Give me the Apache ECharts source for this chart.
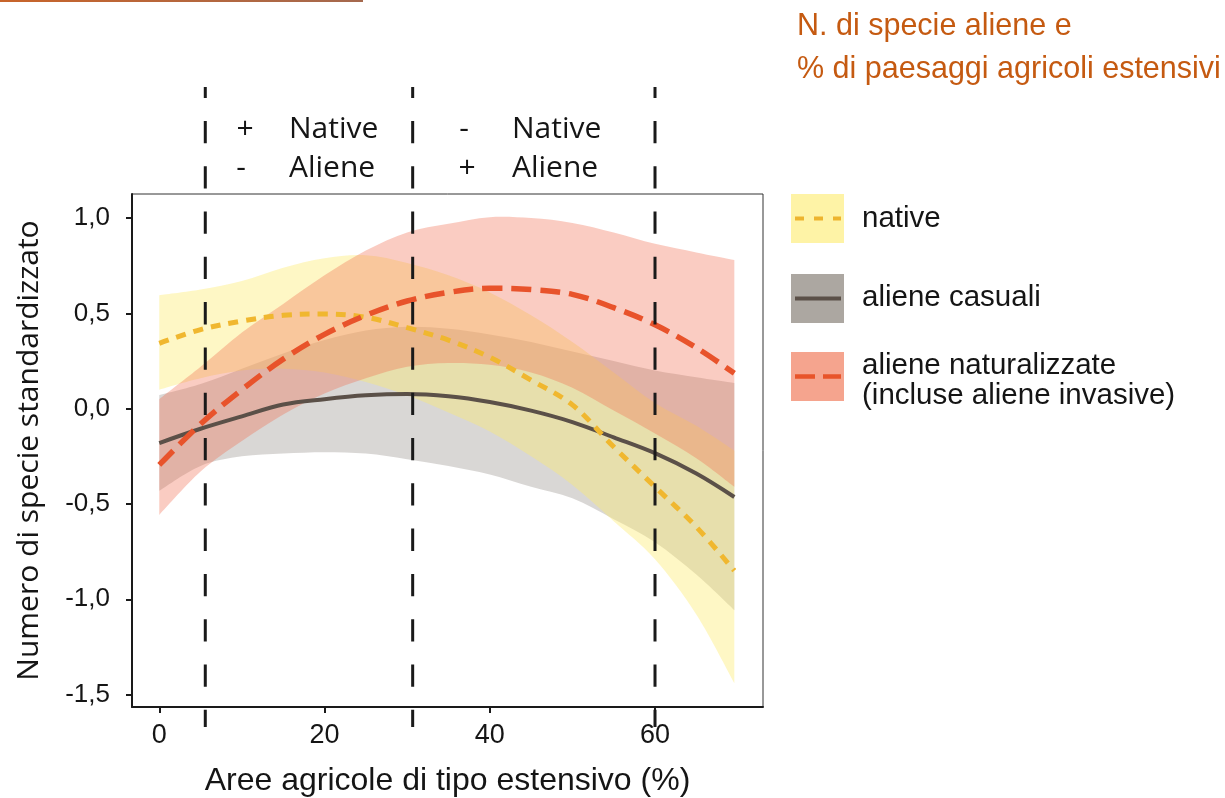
<!DOCTYPE html>
<html>
<head>
<meta charset="utf-8">
<title>N. di specie aliene e % di paesaggi agricoli estensivi</title>
<script src="https://cdn.jsdelivr.net/npm/echarts@6/dist/echarts.min.js"></script>
<style>
  html, body { margin: 0; padding: 0; background: #ffffff; }
  #chart { width: 1225px; height: 798px; }
</style>
</head>
<body>
<div id="chart"></div>
<script>
// Share of extensive farmland (%) at which the fitted curves are sampled
const X_POS = [0, 5, 10, 15, 20, 25, 30, 35, 40, 45, 50, 55, 60, 65, 69.6];

// Native species: fitted curve and confidence band
const NATIVE_FIT  = [0.343, 0.415, 0.46, 0.49, 0.497, 0.48, 0.425, 0.36, 0.27, 0.15, 0.02, -0.2, -0.41, -0.62, -0.85];
const NATIVE_LOW  = [0.10, 0.16, 0.20, 0.21, 0.19, 0.14, 0.07, -0.02, -0.12, -0.25, -0.40, -0.59, -0.79, -1.08, -1.44];
const NATIVE_HIGH = [0.595, 0.625, 0.67, 0.74, 0.79, 0.805, 0.765, 0.70, 0.61, 0.49, 0.35, 0.19, 0.03, -0.09, -0.22];

// Casual aliens: fitted curve and confidence band
const CASUAL_FIT  = [-0.18, -0.105, -0.04, 0.022, 0.05, 0.07, 0.077, 0.065, 0.035, -0.01, -0.07, -0.15, -0.233, -0.34, -0.463];
const CASUAL_LOW  = [-0.43, -0.30, -0.25, -0.235, -0.228, -0.235, -0.265, -0.30, -0.345, -0.41, -0.47, -0.58, -0.70, -0.87, -1.057];
const CASUAL_HIGH = [0.072, 0.13, 0.21, 0.29, 0.36, 0.41, 0.43, 0.42, 0.39, 0.35, 0.30, 0.25, 0.20, 0.165, 0.135];

// Naturalised aliens (invasive included): fitted curve and confidence band
const NATURAL_FIT  = [-0.295, -0.08, 0.10, 0.26, 0.39, 0.49, 0.565, 0.61, 0.632, 0.625, 0.60, 0.53, 0.44, 0.32, 0.186];
const NATURAL_LOW  = [-0.557, -0.33, -0.17, -0.03, 0.08, 0.16, 0.22, 0.24, 0.23, 0.19, 0.11, -0.01, -0.13, -0.26, -0.41];
const NATURAL_HIGH = [0.05, 0.22, 0.40, 0.55, 0.70, 0.83, 0.925, 0.97, 1.005, 1.0, 0.975, 0.925, 0.865, 0.82, 0.78];

// Thresholds separating the three landscape regimes
const VLINE_X = [5.57, 30.67, 60];

// Axis ticks and texts
const X_TICKS = [0, 20, 40, 60];
const Y_TICKS = [-1.5, -1.0, -0.5, 0, 0.5, 1.0];
const X_TITLE = 'Aree agricole di tipo estensivo (%)';
const Y_TITLE = 'Numero di specie standardizzato';
const TITLE_LINES = ['N. di specie aliene e', '% di paesaggi agricoli estensivi'];
const LEGEND_NAMES = ['native', 'aliene casuali', 'aliene naturalizzate', '(incluse aliene invasive)'];
const ZONE_TEXT = [['+', 'Native'], ['-', 'Aliene'], ['-', 'Native'], ['+', 'Aliene']];

const pairs = (xs, ys) => xs.map((x, i) => [x, ys[i]]);
const SMOOTH = 0.35;

// Smooth path through pixel points (Catmull-Rom converted to cubic Bezier)
function smoothSegments(pts, first) {
  let d = first ? 'M' + pts[0][0] + ',' + pts[0][1] : 'L' + pts[0][0] + ',' + pts[0][1];
  for (let i = 0; i < pts.length - 1; i++) {
    const p0 = pts[Math.max(i - 1, 0)], p1 = pts[i], p2 = pts[i + 1], p3 = pts[Math.min(i + 2, pts.length - 1)];
    const c1x = p1[0] + (p2[0] - p0[0]) / 6, c1y = p1[1] + (p2[1] - p0[1]) / 6;
    const c2x = p2[0] - (p3[0] - p1[0]) / 6, c2y = p2[1] - (p3[1] - p1[1]) / 6;
    d += 'C' + c1x + ',' + c1y + ' ' + c2x + ',' + c2y + ' ' + p2[0] + ',' + p2[1];
  }
  return d;
}

// Confidence band: one filled shape between the lower and upper limits
function band(id, low, high, color) {
  return {
    type: 'custom', name: id, silent: true, z: 1,
    data: X_POS.map((x, i) => [x, low[i], high[i]]),
    encode: { x: 0, y: [1, 2] },
    renderItem: function (params, api) {
      if (params.dataIndexInside !== 0) return null;
      const n = params.dataInsideLength;
      const up = [], lo = [];
      for (let i = 0; i < n; i++) {
        const x = api.value(0, i);
        lo.push(api.coord([x, api.value(1, i)]));
        up.push(api.coord([x, api.value(2, i)]));
      }
      const d = smoothSegments(up, true) + smoothSegments(lo.slice().reverse(), false) + 'Z';
      return { type: 'path', shape: { pathData: d }, style: { fill: color } };
    }
  };
}

function fitLine(id, ys, color, width, dash) {
  return {
    type: 'line', name: id, data: pairs(X_POS, ys), symbol: 'none', smooth: SMOOTH, silent: true,
    lineStyle: { color: color, width: width, type: dash }, z: 3
  };
}

const VLINE_TOP = 1.688, VLINE_BOTTOM = -1.67;
const vlines = VLINE_X.map((x, i) => ({
  type: 'line', name: 'soglia' + i, data: [[x, VLINE_TOP], [x, VLINE_BOTTOM]],
  symbol: 'none', clip: false, silent: true,
  lineStyle: { color: '#1a1a1a', width: 3, type: [22.3, 23], dashOffset: 11.4, cap: 'butt' }, z: 6
}));

const TXT = '#151515';
const graphics = [];
// thin rule in the top-left corner
graphics.push({
  type: 'rect', left: 0, top: 0, shape: { width: 363, height: 2 },
  style: { fill: new echarts.graphic.LinearGradient(0, 0, 1, 0, [
    { offset: 0, color: '#C8642A' }, { offset: 1, color: '#A5694E' }]) }
});
// heading
TITLE_LINES.forEach((t, i) => graphics.push({
  type: 'text', x: 797, y: [27, 70][i],
  style: { text: t, fill: '#C55A11', font: '30.5px "Liberation Sans", Arial, sans-serif', textVerticalAlign: 'middle' }
}));
// regime annotations above the plot
const zonePos = [[245, 289, 127], [241, 289, 166], [464, 512, 127], [467, 512, 166]];
ZONE_TEXT.forEach((pair, i) => {
  const p = zonePos[i];
  graphics.push({ type: 'text', x: p[0], y: p[2] + 2,
    style: { text: pair[0], fill: TXT, font: '30px "Open Sans", sans-serif', textAlign: 'center', textVerticalAlign: 'middle' } });
  graphics.push({ type: 'text', x: p[1], y: p[2] + 2,
    style: { text: pair[1], fill: TXT, font: '30px "Open Sans", sans-serif', textVerticalAlign: 'middle' } });
});
// legend swatches
const swatches = [
  { top: 194, fill: '#FEF3A6', stroke: '#EDB42E', dash: [9, 10], w: 4 },
  { top: 274, fill: '#ACA7A1', stroke: '#5B5048', dash: null, w: 4 },
  { top: 352, fill: '#F5A48E', stroke: '#E8542A', dash: [20, 8], w: 4.5 }
];
swatches.forEach(s => {
  graphics.push({ type: 'rect', left: 791, top: s.top, shape: { width: 53, height: 49 }, style: { fill: s.fill } });
  graphics.push({ type: 'line', shape: { x1: 795, y1: s.top + 24.5, x2: 841, y2: s.top + 24.5 },
    style: { stroke: s.stroke, lineWidth: s.w, lineDash: s.dash } });
});
const legendY = [219, 298, 366, 396];
LEGEND_NAMES.forEach((t, i) => graphics.push({
  type: 'text', x: 862, y: legendY[i],
  style: { text: t, fill: TXT, font: '29.5px "Liberation Sans", Arial, sans-serif', textVerticalAlign: 'middle' }
}));

const chart = echarts.init(document.getElementById('chart'), null, { renderer: 'canvas' });
chart.setOption({
  animation: false,
  backgroundColor: '#ffffff',
  grid: {
    left: 132, top: 194, width: 631, height: 513, containLabel: false, outerBoundsMode: 'none',
    show: true, borderColor: '#333333', borderWidth: 1
  },
  xAxis: {
    type: 'value', min: -3.30, max: 73.07,
    axisLine: { show: true, onZero: false, lineStyle: { color: '#1a1a1a', width: 2 } },
    axisTick: { show: true, customValues: X_TICKS, length: 6, lineStyle: { color: '#1a1a1a', width: 2 } },
    axisLabel: { customValues: X_TICKS, margin: 15, fontSize: 27, color: TXT, fontFamily: 'Liberation Sans' },
    splitLine: { show: false },
    name: X_TITLE, nameLocation: 'middle', nameGap: 58,
    nameTextStyle: { fontSize: 32, color: TXT, fontFamily: 'Liberation Sans' }
  },
  yAxis: {
    type: 'value', min: -1.565, max: 1.1265,
    axisLine: { show: true, onZero: false, lineStyle: { color: '#1a1a1a', width: 2 } },
    axisTick: { show: true, customValues: Y_TICKS, length: 6, lineStyle: { color: '#1a1a1a', width: 2 } },
    axisLabel: {
      customValues: Y_TICKS, margin: 22, fontSize: 26, color: TXT, fontFamily: 'Liberation Sans',
      formatter: v => v.toFixed(1).replace('.', ',')
    },
    splitLine: { show: false },
    name: Y_TITLE, nameLocation: 'middle', nameGap: 88,
    nameTextStyle: { fontSize: 30, color: TXT, fontFamily: 'Open Sans' }
  },
  series: [
    band('casuali', CASUAL_LOW, CASUAL_HIGH, 'rgba(160,155,150,0.40)'),
    band('native', NATIVE_LOW, NATIVE_HIGH, 'rgba(253,236,110,0.40)'),
    band('naturalizzate', NATURAL_LOW, NATURAL_HIGH, 'rgba(240,110,80,0.35)'),
    fitLine('aliene casuali', CASUAL_FIT, '#5B5048', 4, 'solid'),
    fitLine('native', NATIVE_FIT, '#F0B72F', 5, [10, 8]),
    fitLine('aliene naturalizzate', NATURAL_FIT, '#E8532B', 5.5, [20, 9]),
    ...vlines
  ],
  graphic: graphics
});
</script>
</body>
</html>
